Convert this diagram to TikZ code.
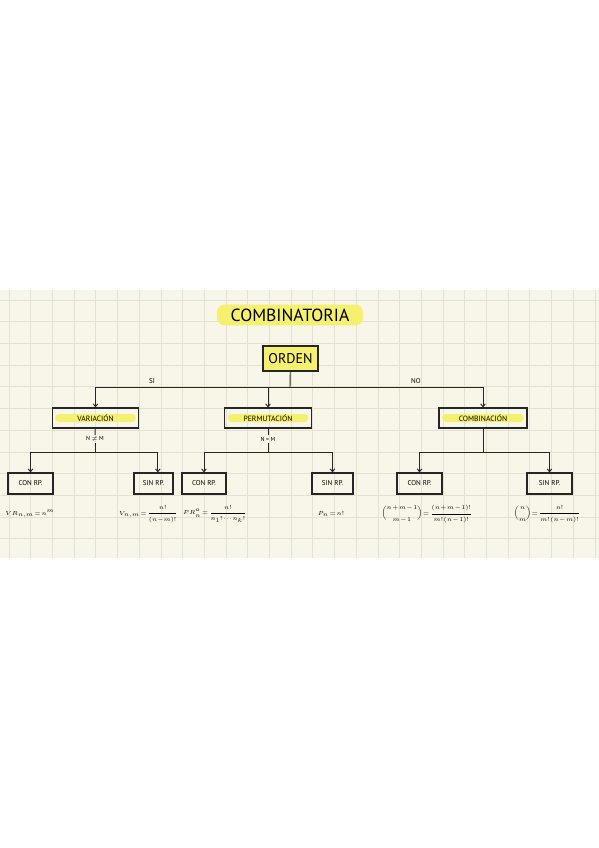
\documentclass[tikz,border=0pt]{standalone}
\usepackage{fontspec}
\setmainfont{PT Sans}
\usepackage{amsmath}
\usetikzlibrary{arrows.meta}
\definecolor{paper}{RGB}{248,245,233}
\definecolor{gridc}{RGB}{229,225,210}
\definecolor{hlyellow}{RGB}{246,240,112}
\newcommand\tightmath{\thickmuskip=2mu\relax\medmuskip=1mu\relax\thinmuskip=1mu\relax}
\tikzset{
  box/.style={draw=black!85, line width=0.9pt, inner sep=0pt},
  midbox/.style={box, minimum width=2.6cm, minimum height=0.6cm, font=\fontsize{6.5}{7}\selectfont,
    path picture={\fill[hlyellow, rounded corners=0.12cm]
      ([xshift=0.09cm,yshift=0.18cm]path picture bounding box.south west) rectangle
      ([xshift=-0.09cm,yshift=-0.18cm]path picture bounding box.north east);}},
  leafbox/.style={box, minimum height=0.63cm, font=\fontsize{6}{7}\selectfont},
  link/.style={draw=black!85, line width=0.8pt},
  arr/.style={link, -{Straight Barb[length=2.5pt,width=4pt]}},
  lbl/.style={font=\fontsize{6}{7}\selectfont, inner sep=1pt},
  formula/.style={font=\fontsize{5}{6}\selectfont\tightmath, inner sep=0pt},
  smallformula/.style={formula, font=\fontsize{4.5}{5.5}\selectfont\tightmath}
}
\begin{document}
\begin{tikzpicture}[x=0.03cm,y=-0.03cm]
    \useasboundingbox (0,0) rectangle (599,848);
    \fill[white] (0,0) rectangle (599,848);
    \fill[paper] (0,290) rectangle (599,558);
    \foreach \gx in {0,...,27}
        \draw[gridc, line width=0.6pt] ({9+21.7*\gx},290) -- ({9+21.7*\gx},558);
    \foreach \gy in {0,...,11}
        \draw[gridc, line width=0.6pt] (0,{300+21.7*\gy}) -- (599,{300+21.7*\gy});

    \node[fill=hlyellow, rounded corners=0.22cm, minimum width=4.38cm, minimum height=0.45cm,
          font=\fontsize{15}{15}\selectfont] (title) at (290,315) {COMBINATORIA};
    \node[box, fill=hlyellow, minimum width=1.65cm, minimum height=0.75cm,
          font=\fontsize{12}{12}\selectfont] (orden) at (290.5,358.5) {ORDEN};

    \coordinate (split) at (290,387);
    \node[midbox] (var) at (95.5,418) {VARIACIÓN};
    \node[midbox] (perm) at (268,418) {PERMUTACIÓN};
    \node[midbox, minimum width=2.64cm] (comb) at (483,418) {COMBINACIÓN};

    \draw[link] (orden) -- (split);
    \draw[arr] (split) -| (var);
    \draw[arr] (split) -| (perm);
    \draw[arr] (split) -| (comb);
    \node[lbl] (si) at (152,381) {SI};
    \node[lbl] (no) at (416,381) {NO};

    \node[lbl, font=\fontsize{5}{6}\selectfont] (vneq) at (95,439) {N $\neq$ M};
    \node[lbl, font=\fontsize{5}{6}\selectfont] (peq) at (268,439) {N = M};
    \coordinate (vsplit) at (95,452);
    \coordinate (psplit) at (268,452);
    \coordinate (csplit) at (483,452);

    \node[leafbox, minimum width=1.35cm] (vcon) at (30.5,483.5) {CON RP.};
    \node[leafbox, minimum width=1.17cm] (vsin) at (153.5,483.5) {SIN RP.};
    \node[leafbox, minimum width=1.32cm] (pcon) at (204,483.5) {CON RP.};
    \node[leafbox, minimum width=1.23cm] (psin) at (332.5,483.5) {SIN RP.};
    \node[leafbox, minimum width=1.35cm] (ccon) at (419.5,483.5) {CON RP.};
    \node[leafbox, minimum width=1.35cm] (csin) at (549.5,483.5) {SIN RP.};

    \draw[link] (var) -- (vneq);
    \draw[link] (vneq) -- (vsplit);
    \draw[arr] (vsplit) -| (vcon);
    \draw[arr] (vsplit) -| ([xshift=0.13cm]vsin.north);
    \draw[link] (perm) -- (peq);
    \draw[link] (peq) -- (psplit);
    \draw[arr] (psplit) -| (pcon);
    \draw[arr] (psplit) -| (psin);
    \draw[link] (comb) -- (csplit);
    \draw[arr] (csplit) -| (ccon);
    \draw[arr] (csplit) -| (csin);

    \node[smallformula] (fvr) at (30,514) {$VR_{n,m}=n^m$};
    \node[smallformula, anchor=east] (fv) at (178,514) {$\displaystyle V_{n,m}=\frac{n!}{(n\!-\!m)!}$};
    \node[smallformula, anchor=west] (fpr) at (183,514) {$\displaystyle PR_n^{a}=\frac{n!}{n_1!\cdots n_k!}$};
    \node[formula] (fp) at (331,514) {$P_n=n!$};
    \node[formula] (fcr) at (427,514) {$\displaystyle \binom{n+m-1}{m-1}=\frac{(n+m-1)!}{m!\,(n-1)!}$};
    \node[formula] (fc) at (547,514) {$\displaystyle \binom{n}{m}=\frac{n!}{m!\,(n-m)!}$};
\end{tikzpicture}
\end{document}
